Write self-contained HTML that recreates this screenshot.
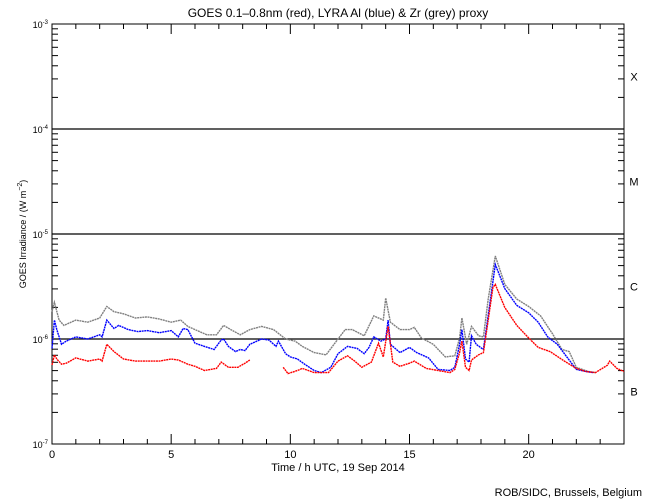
<!DOCTYPE html>
<html><head><meta charset="utf-8"><style>
html,body{margin:0;padding:0;background:#fff;}
svg{display:block;font-family:"Liberation Sans",sans-serif;}
</style></head><body>
<svg id="chart" width="650" height="500" viewBox="0 0 650 500" xmlns="http://www.w3.org/2000/svg">
<rect width="650" height="500" fill="#fff"/>
<text x="338" y="17" font-size="12" text-anchor="middle">GOES 0.1–0.8nm (red), LYRA Al (blue) &amp; Zr (grey) proxy</text>
<text x="338" y="471" font-size="11" text-anchor="middle">Time / h UTC, 19 Sep 2014</text>
<text transform="translate(26,234) rotate(-90)" font-size="9" text-anchor="middle">GOES Irradiance / (W m<tspan font-size="7" dy="-4">−2</tspan><tspan dy="4">)</tspan></text>
<text x="642" y="496" font-size="11" text-anchor="end">ROB/SIDC, Brussels, Belgium</text>
<g id="axes"></g>
<g id="series"></g>
</svg>
<script>
const hours = [0,0.1,0.2,0.4,0.6,1,1.5,2,2.1,2.3,2.6,3,3.5,4,4.5,5,5.3,5.5,5.7,6,6.4,6.9,7.1,7.4,7.8,8.1,8.3,null,9.7,9.9,10.3,10.5,11,11.6,12,12.4,12.7,13,13.4,13.7,13.9,14.1,14.3,14.6,15,15.2,15.7,16.2,16.7,16.9,17.1,17.2,17.35,17.5,17.6,17.9,18.1,18.3,18.5,18.6,19,19.5,20,20.4,20.9,21.5,22,22.4,22.8,23.3,23.4,23.7,24];
const redLog = [-6.248,-6.152,-6.19,-6.24,-6.23,-6.18,-6.21,-6.19,-6.21,-6.05,-6.12,-6.19,-6.21,-6.21,-6.21,-6.19,-6.2,-6.22,-6.24,-6.26,-6.3,-6.28,-6.22,-6.27,-6.27,-6.23,-6.2,null,-6.27,-6.33,-6.3,-6.28,-6.32,-6.32,-6.21,-6.16,-6.21,-6.27,-6.22,-6.04,-6.17,-5.88,-6.22,-6.26,-6.23,-6.21,-6.28,-6.3,-6.32,-6.29,-6.13,-6.02,-6.27,-6.3,-6.2,-6.15,-6.13,-5.82,-5.51,-5.48,-5.7,-5.87,-5.99,-6.08,-6.12,-6.21,-6.28,-6.31,-6.32,-6.25,-6.21,-6.28,-6.31];
const blueHours = [0,0.1,0.2,0.4,0.6,1,1.5,2,2.1,2.3,2.6,2.8,3.2,3.6,4,4.5,5,5.3,5.5,5.7,6,6.4,6.8,7.1,7.2,7.4,7.7,7.9,8.1,8.3,8.8,9.1,9.4,9.5,9.8,10,10.3,10.6,11,11.3,11.7,12,12.4,12.8,13.1,13.3,13.5,13.8,14,14.1,14.2,14.6,15,15.3,15.8,16.2,16.7,16.9,17.1,17.2,17.35,17.5,17.6,17.8,18.1,18.4,18.6,19,19.5,20,20.4,20.8,21.2,21.6,22,22.4,22.7];
const blueLog = [-6.09,-5.82,-5.91,-6.05,-6.02,-5.98,-6,-5.96,-5.98,-5.82,-5.9,-5.87,-5.91,-5.93,-5.92,-5.94,-5.92,-5.98,-5.9,-5.91,-6.04,-6.07,-6.1,-6.01,-6,-6.07,-6.12,-6.1,-6.11,-6.05,-6,-6.01,-6.07,-6.02,-6.14,-6.17,-6.19,-6.24,-6.3,-6.32,-6.27,-6.14,-6.07,-6.09,-6.14,-6.08,-5.98,-6.02,-6,-5.82,-6.05,-6.13,-6.08,-6.13,-6.18,-6.29,-6.3,-6.27,-6.05,-5.91,-6.19,-6.22,-5.97,-6.05,-6.1,-5.62,-5.29,-5.52,-5.68,-5.75,-5.84,-5.98,-6.05,-6.17,-6.29,-6.31,-6.32];
const greyHours = [0,0.1,0.3,0.5,1,1.5,2,2.3,2.6,3,3.5,4,4.5,5,5.4,5.7,6,6.5,6.9,7.2,7.5,7.9,8.3,8.8,9.3,9.8,10.2,10.5,11,11.5,12,12.3,12.6,13.1,13.5,13.9,14,14.2,14.6,15,15.2,15.5,16,16.5,16.9,17.1,17.2,17.4,17.6,17.9,18.1,18.3,18.6,19,19.5,20,20.5,21,21.4,21.7,22,22.5,22.8];
const greyLog = [-5.74,-5.65,-5.82,-5.87,-5.82,-5.84,-5.8,-5.69,-5.74,-5.76,-5.8,-5.79,-5.81,-5.84,-5.82,-5.88,-5.91,-5.96,-5.96,-5.87,-5.91,-5.96,-5.91,-5.88,-5.91,-6,-6.02,-6.07,-6.13,-6.15,-6,-5.91,-5.91,-5.97,-5.78,-5.82,-5.61,-5.84,-5.91,-5.91,-5.89,-5.99,-6.05,-6.17,-6.16,-5.99,-5.8,-6.05,-5.88,-5.97,-5.98,-5.62,-5.21,-5.48,-5.62,-5.69,-5.78,-5.95,-6.1,-6.12,-6.27,-6.31,-6.32];
const xTickLabels = ["0","5","10","15","20"];
const decadeExps = [-7,-6,-5,-4,-3];
const flareClasses = ["B","C","M","X"];

const L=52,R=624,T=24,B=444;
const NS="http://www.w3.org/2000/svg";
function xs(h){return L+(R-L)*h/24;}
function ys(lg){return B-(B-T)*(lg+7)/4;}
function mk(tag,attrs,parent){const e=document.createElementNS(NS,tag);for(const k in attrs)e.setAttribute(k,attrs[k]);parent.appendChild(e);return e;}
const axes=document.getElementById('axes'), ser=document.getElementById('series');

const frame=mk('rect',{x:L,y:T,width:R-L,height:B-T,fill:'none',stroke:'#000','stroke-width':1},axes);



for(let h=0;h<=24;h++){
  const x=xs(h), len=(h%5===0)?10:5;
  const t1=mk('line',{x1:x,x2:x,y1:B,y2:B-len,stroke:'#000'},axes);
  
  
  const t2=mk('line',{x1:x,x2:x,y1:T,y2:T+len,stroke:'#000'},axes);
  
  
}
xTickLabels.forEach(s=>{
  const t=mk('text',{x:xs(+s),y:B+14,'font-size':11,'text-anchor':'middle'},axes);
  t.textContent=s;
  
  
});
decadeExps.forEach((e,i)=>{
  const y=ys(e);
  if(e>-7&&e<-3){
    const g=mk('line',{x1:L,x2:R,y1:y,y2:y,stroke:'#000','stroke-width':1.2},axes);
    
    
  }
  const t=mk('text',{x:L-4,y:y+4,'font-size':9,'text-anchor':'end'},axes);
  t.innerHTML='10<tspan font-size="6" dy="-4">'+e+'</tspan>';
  
  
  if(e<-3){
    for(let m=2;m<=9;m++){
      const yy=ys(e+Math.log10(m));
      const a=mk('line',{x1:L,x2:L+6,y1:yy,y2:yy,stroke:'#000'},axes);
      
      
      const b=mk('line',{x1:R,x2:R-6,y1:yy,y2:yy,stroke:'#000'},axes);
      
      
    }
  }
});
flareClasses.forEach((c,i)=>{
  const t=mk('text',{x:634,y:ys(-7+i+0.5)+4,'font-size':11,'text-anchor':'middle'},axes);
  t.textContent=c;
  
  
});

function draw(hs,vals,color,name){
  let d='',pen=false;
  for(let i=0;i<hs.length;i++){
    if(hs[i]===null||vals[i]===null){pen=false;continue;}
    d+=(pen?'L':'M')+xs(hs[i]).toFixed(1)+','+ys(vals[i]).toFixed(1);
    pen=true;
  }
  const p=mk('path',{d:d,fill:'none',stroke:color,'stroke-width':1.4,'stroke-dasharray':'2 0.6'},ser);
  
  
}
draw(greyHours,greyLog,'#808080','zr-proxy-series');
draw(blueHours,blueLog,'#0000ff','lyra-al-series');
draw(hours,redLog,'#ff0000','goes-series');
</script>
</body></html>
